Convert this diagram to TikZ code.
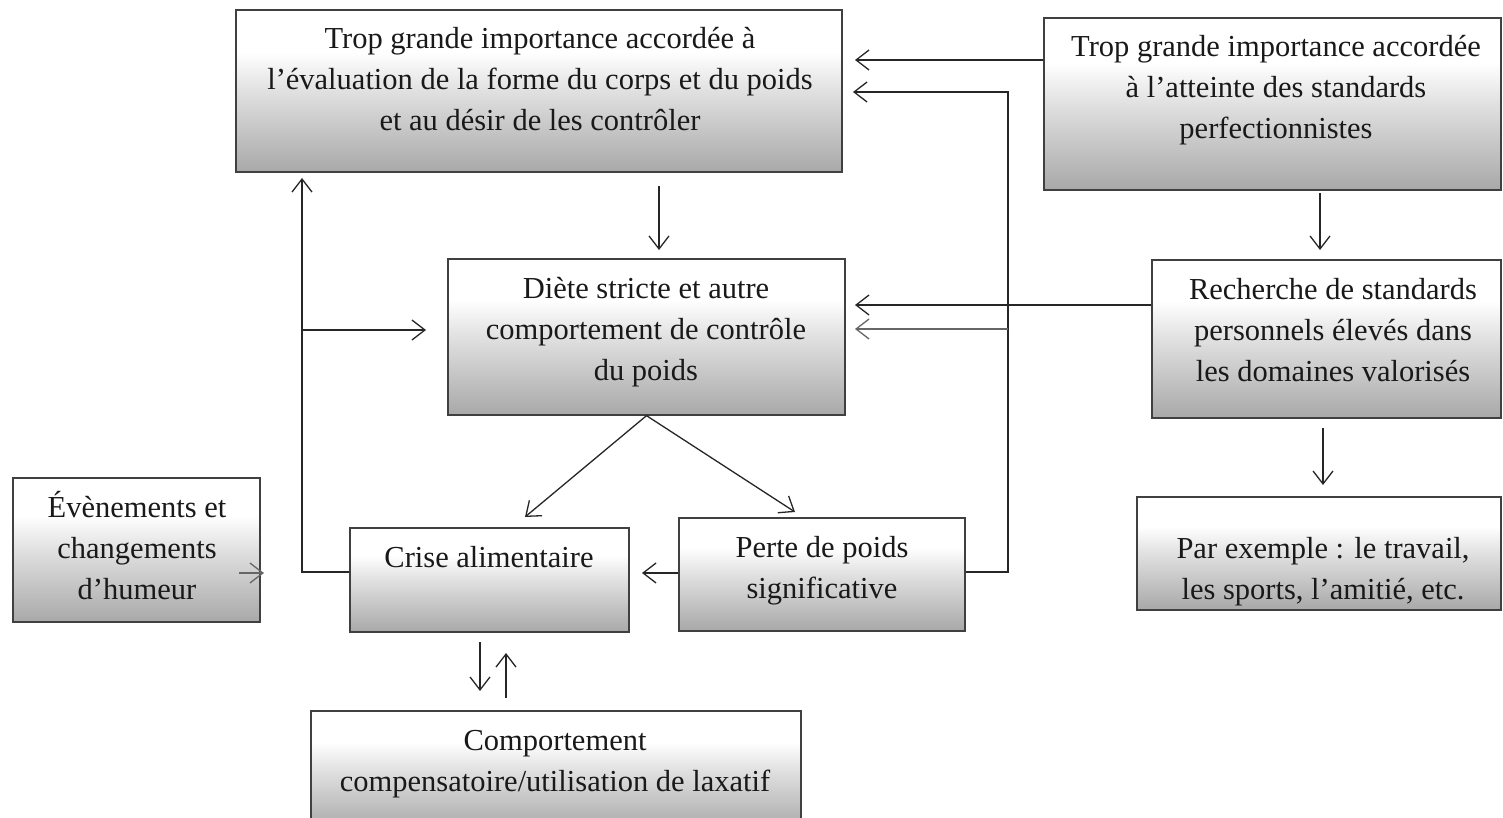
\documentclass[tikz,border=0pt]{standalone}
\usepackage{fontspec}
\setmainfont{Liberation Serif}
\usetikzlibrary{arrows.meta,calc}
\pgfdeclareverticalshading{boxshade}{100bp}{color(0bp)=(black!46); color(25bp)=(black!34); color(50bp)=(black!12); color(62bp)=(white); color(100bp)=(white)}
\tikzset{
  box/.style={draw=black!75, line width=1.3pt, shading=boxshade, inner sep=0pt, rectangle},
  txt/.style={anchor=base, align=center, inner sep=0pt, text=black!90,
    font=\fontsize{30.5}{41}\selectfont},
  arr/.style={-{Straight Barb[length=13pt,width=20pt,line width=1.3pt]}, line width=1.3pt, draw=black!85},
  arrg/.style={arr, draw=black!60},
}
\begin{document}
\begin{tikzpicture}[x=1pt,y=-1pt]
\useasboundingbox (0,0) rectangle (1503,818);
% boxes
\node[box, minimum width=606pt, minimum height=162pt] (A) at (539,91) {};
\node[box, minimum width=457pt, minimum height=172pt] (B) at (1272.5,104) {};
\node[box, minimum width=397pt, minimum height=156pt] (C) at (646.5,337) {};
\node[box, minimum width=349pt, minimum height=158pt] (D) at (1326.5,339) {};
\node[box, minimum width=364pt, minimum height=113pt] (E) at (1319,553.5) {};
\node[box, minimum width=247pt, minimum height=144pt] (F) at (136.5,550) {};
\node[box, minimum width=279pt, minimum height=104pt] (G) at (489.5,580) {};
\node[box, minimum width=286pt, minimum height=113pt] (H) at (822,574.5) {};
\node[box, minimum width=490pt, minimum height=119pt] (I) at (556,770.5) {};
% texts (base = baseline of last line)
\node[txt] (At) at (540,131) {Trop grande importance accordée à\\l’évaluation de la forme du corps et du poids\\et au désir de les contrôler};
\node[txt] (Bt) at (1276,139) {Trop grande importance accordée\\à l’atteinte des standards\\perfectionnistes};
\node[txt] (Ct) at (646,380) {Diète stricte et autre\\comportement de contrôle\\du poids};
\node[txt] (Dt) at (1333,381) {Recherche de standards\\personnels élevés dans\\les domaines valorisés};
\node[txt] (Et) at (1323,599) {Par exemple : le travail,\\les sports, l’amitié, etc.};
\node[txt] (Ft) at (137,599) {Évènements et\\changements\\d’humeur};
\node[txt] (Gt) at (489,567) {Crise alimentaire};
\node[txt] (Ht) at (822,598) {Perte de poids\\significative};
\node[txt] (It) at (555,791) {Comportement\\compensatoire/utilisation de laxatif};
% coordinates
\coordinate (a1) at (855,60);
\coordinate (v1) at (1008,92);
\coordinate (a2) at (853,92);
\coordinate (c1) at (855,305);
\coordinate (v2) at (1008,329);
\coordinate (c2) at (855,329);
\coordinate (a3) at (659,186);
\coordinate (c0) at (659,250);
\coordinate (b1) at (1320,193);
\coordinate (d0) at (1320,250);
\coordinate (d1) at (1323,428);
\coordinate (e0) at (1323,485);
\coordinate (g0) at (525,517);
\coordinate (h0) at (795,512);
\coordinate (g1) at (642,573);
\coordinate (l1) at (302,572);
\coordinate (l2) at (302,178);
\coordinate (l3) at (302,330);
\coordinate (c3) at (426,330);
\coordinate (f1) at (239,573);
\coordinate (f2) at (264,573);
\coordinate (gd) at (480,642);
\coordinate (id) at (480,691);
\coordinate (iu) at (506,698);
\coordinate (gu) at (506,653);
% connectors
\draw[arr] (B.west |- a1) -- (a1);
\draw[arr] (H.east |- 0,572) -| (v1) -- (a2);
\draw[arr] (D.west |- c1) -- (c1);
\draw[arrg] (v2) -- (c2);
\draw[arr] (a3) -- (c0);
\draw[arr] (b1) -- (d0);
\draw[arr] (d1) -- (e0);
\draw[arr] (C.south) -- (g0);
\draw[arr] (C.south) -- (h0);
\draw[arr] (H.west |- g1) -- (g1);
\draw[arr] (G.west |- l1) -- (l1) -- (l2);
\draw[arr] (l3) -- (c3);
\draw[arrg] (f1) -- (f2);
\draw[arr] (gd) -- (id);
\draw[arr] (iu) -- (gu);
\end{tikzpicture}
\end{document}
